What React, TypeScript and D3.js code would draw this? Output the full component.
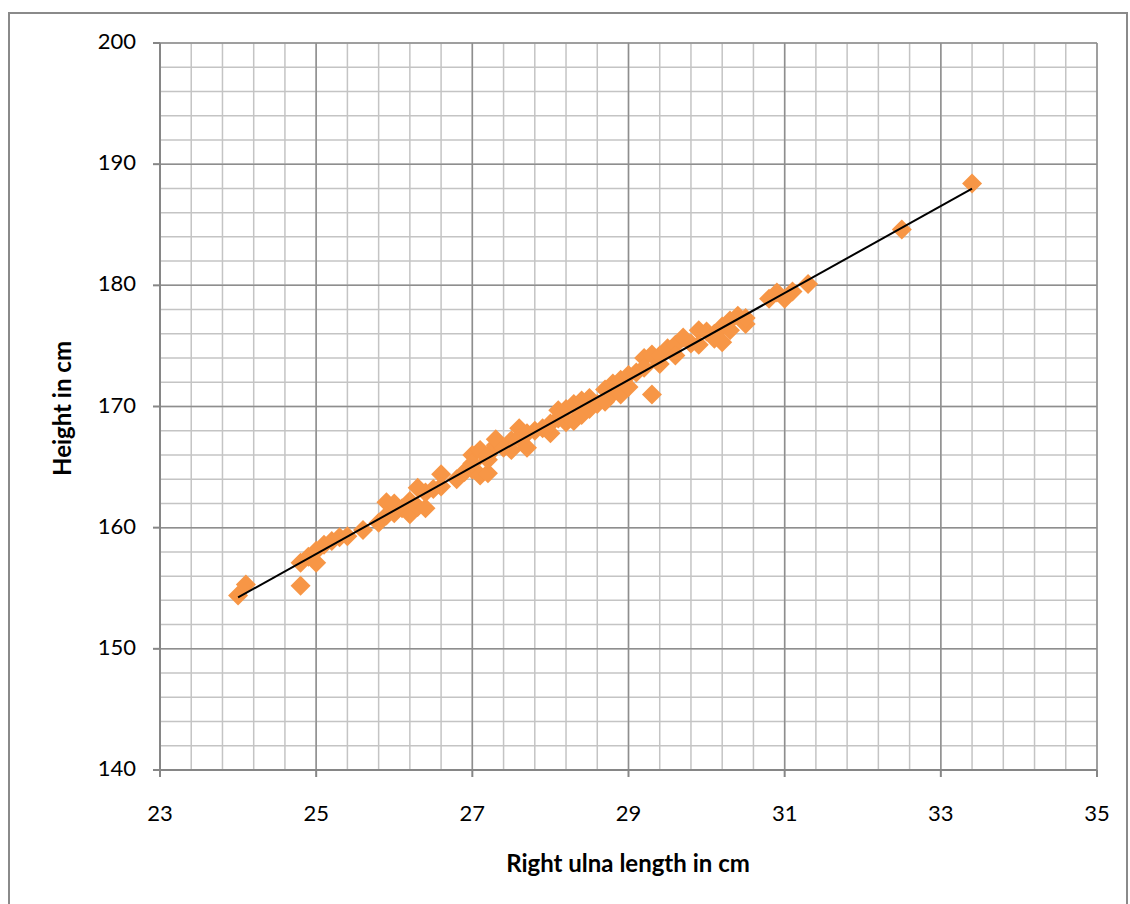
import React from "react";
import * as d3 from "d3";

const ulna: number[] = [
  24.0, 24.1, 24.8, 24.8, 24.9, 25.0, 25.0, 25.1, 25.2, 25.3, 25.4, 25.6, 25.8, 25.9, 25.9,
  26.0, 26.0, 26.1, 26.2, 26.2, 26.3, 26.3, 26.4, 26.4, 26.5, 26.6, 26.6, 26.8, 26.9, 27.0,
  27.0, 27.0, 27.1, 27.1, 27.2, 27.2, 27.2, 27.3, 27.3, 27.4, 27.5, 27.5, 27.6, 27.6, 27.7,
  27.7, 27.8, 27.9, 28.0, 28.0, 28.1, 28.1, 28.2, 28.2, 28.3, 28.3, 28.4, 28.4, 28.5, 28.5,
  28.6, 28.7, 28.7, 28.8, 28.8, 28.9, 28.9, 29.0, 29.0, 29.1, 29.2, 29.2, 29.3, 29.3, 29.4,
  29.4, 29.5, 29.6, 29.6, 29.7, 29.8, 29.9, 29.9, 30.0, 30.1, 30.1, 30.2, 30.2, 30.3, 30.3,
  30.4, 30.5, 30.5, 30.8, 30.9, 31.0, 31.1, 31.3, 32.5, 33.4,
];
const height: number[] = [
  154.4, 155.3, 155.2, 157.1, 157.6, 157.1, 158.1, 158.6, 158.9, 159.2, 159.3, 159.8, 160.4, 162.1, 161.0,
  161.2, 162.0, 161.6, 161.1, 162.2, 163.3, 161.7, 161.6, 162.9, 163.2, 164.4, 163.4, 164.0, 164.6, 164.8,
  166.0, 165.3, 166.4, 164.3, 164.5, 165.6, 166.0, 166.8, 167.3, 166.6, 167.2, 166.4, 168.2, 167.4, 166.6,
  167.8, 168.0, 168.2, 167.8, 168.6, 169.7, 169.0, 169.8, 168.7, 168.8, 170.2, 170.5, 169.3, 170.7, 169.8,
  170.2, 171.4, 170.4, 171.9, 171.1, 171.0, 172.2, 171.6, 172.6, 172.8, 174.0, 173.2, 171.0, 174.3, 173.5,
  174.2, 174.8, 175.1, 174.2, 175.7, 175.2, 176.3, 175.1, 176.2, 176.0, 175.6, 176.6, 175.3, 177.1, 176.3,
  177.5, 176.8, 177.3, 178.9, 179.4, 178.9, 179.5, 180.1, 184.6, 188.4,
];

const xTicks: number[] = [23, 25, 27, 29, 31, 33, 35];
const yTicks: number[] = [140, 150, 160, 170, 180, 190, 200];
const xTitle = "Right ulna length in cm";
const yTitle = "Height in cm";

const W = 1130;
const H = 904;
const L = 160, R = 1097, T = 43, B = 770;

export default function App() {
  const x = d3.scaleLinear().domain([23, 35]).range([L, R]);
  const y = d3.scaleLinear().domain([140, 200]).range([B, T]);

  const xMinor = d3.range(23, 35.001, 0.4);
  const yMinor = d3.range(140, 200.001, 2);

  // linear regression trendline
  const pts = ulna.map((u, i) => [u, height[i]] as [number, number]);
  const mx = d3.mean(ulna)!;
  const my = d3.mean(height)!;
  const sxy = d3.sum(pts, (p) => (p[0] - mx) * (p[1] - my));
  const sxx = d3.sum(pts, (p) => (p[0] - mx) ** 2);
  const slope = sxy / sxx;
  const icpt = my - slope * mx;
  const [x0, x1] = d3.extent(ulna) as [number, number];
  const line = d3.line<number>().x((d) => x(d)).y((d) => y(icpt + slope * d));

  const diamond = d3.symbol().type(d3.symbolSquare).size(200)()!;
  const font = "Lato, 'Open Sans', sans-serif";

  return (
    <svg
      width={W}
      height={H}
      style={{ position: "absolute", left: 0, top: 0, background: "#fff" }}
    >
      <rect x={9} y={13} width={1118} height={900} fill="#fff" stroke="#8a8a8a" strokeWidth={2} />
      {/* minor grid */}
      {xMinor.map((v, i) => (
        <line key={"xm" + i} x1={x(v)} x2={x(v)} y1={T} y2={B} stroke="#c4c4c4" strokeWidth={1.5} />
      ))}
      {yMinor.map((v, i) => (
        <line key={"ym" + i} x1={L} x2={R} y1={y(v)} y2={y(v)} stroke="#c4c4c4" strokeWidth={1.5} />
      ))}
      {/* major grid */}
      {xTicks.map((v) => (
        <line key={"xM" + v} x1={x(v)} x2={x(v)} y1={T} y2={B} stroke="#8e8e8e" strokeWidth={1.5} />
      ))}
      {yTicks.map((v) => (
        <line key={"yM" + v} x1={L} x2={R} y1={y(v)} y2={y(v)} stroke="#8e8e8e" strokeWidth={1.5} />
      ))}
      {/* axes */}
      <line x1={L} x2={R} y1={B} y2={B} stroke="#868686" strokeWidth={2} />
      <line x1={L} x2={L} y1={T} y2={B} stroke="#868686" strokeWidth={2} />
      {xTicks.map((v) => (
        <line key={"xt" + v} x1={x(v)} x2={x(v)} y1={B} y2={B + 7} stroke="#868686" strokeWidth={2} />
      ))}
      {yTicks.map((v) => (
        <line key={"yt" + v} x1={L - 7} x2={L} y1={y(v)} y2={y(v)} stroke="#868686" strokeWidth={2} />
      ))}
      {/* tick labels */}
      {xTicks.map((v) => (
        <text key={"xl" + v} x={x(v)} y={B + 51} textAnchor="middle" fontFamily={font} fontSize={22} fill="#000">
          {v}
        </text>
      ))}
      {yTicks.map((v) => (
        <text key={"yl" + v} x={L - 24} y={y(v) + 6} textAnchor="end" fontFamily={font} fontSize={22} fill="#000">
          {v}
        </text>
      ))}
      {/* titles */}
      <text x={628} y={872} textAnchor="middle" fontFamily={font} fontSize={24} fontWeight="bold" fill="#000">
        {xTitle}
      </text>
      <text
        transform={`translate(71, ${(T + B) / 2 + 2}) rotate(-90)`}
        textAnchor="middle"
        fontFamily={font}
        fontSize={24}
        fontWeight="bold"
        fill="#000"
      >
        {yTitle}
      </text>
      {/* points */}
      {ulna.map((u, i) => (
        <path
          key={"p" + i}
          d={diamond}
          transform={`translate(${x(u)},${y(height[i])}) rotate(45)`}
          fill="#F79646"
        />
      ))}
      {/* trendline */}
      <path d={line([x0, x1])!} fill="none" stroke="#000" strokeWidth={2} />
    </svg>
  );
}
